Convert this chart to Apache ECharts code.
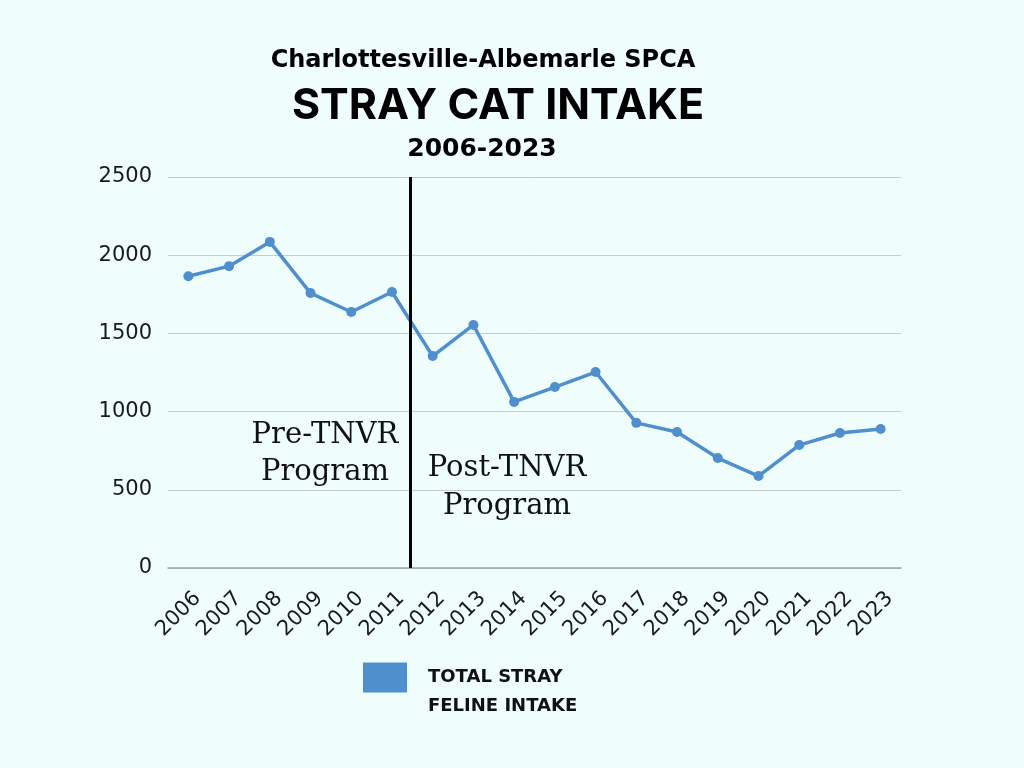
<!DOCTYPE html>
<html><head><meta charset="utf-8">
<script src="https://cdn.jsdelivr.net/npm/echarts@6/dist/echarts.min.js"></script>
<style>html,body{margin:0;padding:0;background:#effefd;}#c{width:1024px;height:768px;}</style>
</head><body><div id="c"></div>
<script>
const years = ['2006','2007','2008','2009','2010','2011','2012','2013','2014','2015','2016','2017','2018','2019','2020','2021','2022','2023'];
const intake = [1865,1930,2085,1758,1637,1765,1355,1554,1062,1157,1253,928,870,703,588,786,863,889];
const yTicks = {min:0, max:2500, interval:500};
const seriesName = 'TOTAL STRAY\nFELINE INTAKE';
const programStart = 5.95; // boundary between 2011 and 2012 (category index)

const chart = echarts.init(document.getElementById('c'));
const sans = '"DejaVu Sans", sans-serif';
const inter = 'Inter, "Open Sans", sans-serif';
chart.setOption({
  backgroundColor:'#effefd',
  animation:false,
  title:[
    {text:'Charlottesville-Albemarle SPCA', left:478, top:44, textAlign:'center',
     textStyle:{fontFamily:sans, fontWeight:'bold', fontSize:24, color:'#000'}},
    {text:'STRAY CAT INTAKE', left:493, top:80, textAlign:'center',
     textStyle:{fontFamily:inter, fontWeight:700, fontSize:43, color:'#000'}},
    {text:'2006-2023', left:477, top:132, textAlign:'center',
     textStyle:{fontFamily:sans, fontWeight:'bold', fontSize:25, color:'#000'}}
  ],
  grid:{left:168, right:123, top:177, bottom:200, containLabel:false},
  legend:{left:358, top:629, icon:'rect', itemWidth:44, itemHeight:30, itemGap:20,
    data:[seriesName],
    formatter: name => '\n' + name,
    textStyle:{fontFamily:sans, fontWeight:'bold', fontSize:18, color:'#111', lineHeight:29, padding:[0,0,0,16]}},
  xAxis:[
    {type:'category', data:years, boundaryGap:true,
     axisLine:{lineStyle:{color:'#9aa5a8', width:1.5}}, axisTick:{show:false},
     axisLabel:{rotate:45, fontFamily:sans, fontSize:21, color:'#1a1a1a', margin:18, interval:0,
       verticalAlign:'top', lineHeight:26}},
    {type:'value', min:0, max:years.length, show:false}
  ],
  yAxis:{type:'value', min:yTicks.min, max:yTicks.max, interval:yTicks.interval,
    axisLine:{show:false}, axisTick:{show:false},
    splitLine:{lineStyle:{color:'#c2cdcf', width:1}},
    axisLabel:{fontFamily:sans, fontSize:21, color:'#1a1a1a', margin:16, formatter:v => String(v)}},
  series:[
    {name:seriesName, type:'line', data:intake, color:'#4f8fce',
     symbol:'circle', symbolSize:10, lineStyle:{width:3.5, color:'#4f8fce'},
     itemStyle:{color:'#4f8fce'}},
    {name:'divider', type:'line', xAxisIndex:1, data:[], silent:true,
     markLine:{symbol:'none', silent:true, label:{show:false},
       lineStyle:{color:'#000', width:3, type:'solid'},
       data:[{xAxis:programStart}]}}
  ],
  graphic:[
    {type:'text', x:325, y:417, style:{text:'Pre-TNVR\nProgram', align:'center', verticalAlign:'top',
      font:'29px "DejaVu Serif", serif', lineHeight:37, fill:'#111'}},
    {type:'text', x:507, y:449, style:{text:'Post-TNVR\nProgram', align:'center', verticalAlign:'top',
      font:'29px "DejaVu Serif", serif', lineHeight:38, fill:'#111'}}
  ]
});
</script></body></html>
